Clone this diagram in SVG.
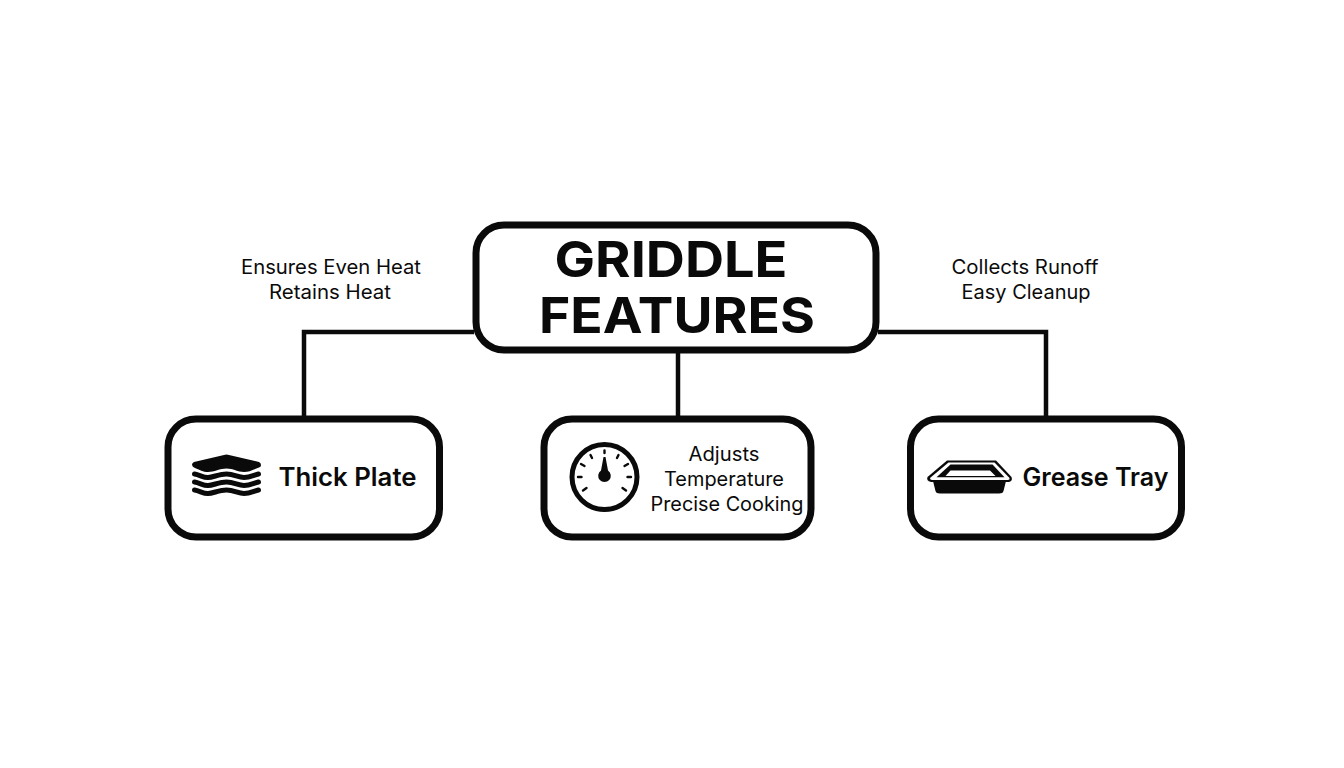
<svg xmlns="http://www.w3.org/2000/svg" width="1344" height="768" viewBox="0 0 1344 768">
<style>
.box{fill:#fff;stroke:#0a0a0a;stroke-width:7}
.conn{fill:none;stroke:#0a0a0a;stroke-width:4.5}
text{font-family:Inter,"Liberation Sans",sans-serif;fill:#0a0a0a;text-anchor:middle}
.title{font-size:50px;font-weight:700}
.label{font-size:19.5px;font-weight:400}
.name{font-size:25px;font-weight:600}
.w{fill:none;stroke:#0a0a0a;stroke-width:5;stroke-linecap:round;stroke-linejoin:round}
.t{stroke:#0a0a0a;stroke-width:2.4;stroke-linecap:round}
</style>
<rect width="1344" height="768" fill="#fff"/>
<g id="connectors">
<path class="conn" d="M474 332H304V417"/>
<path class="conn" d="M678 352V417"/>
<path class="conn" d="M878 332H1046V417"/>
</g>
<g id="griddle-features">
<rect class="box" x="476" y="225" width="400" height="125" rx="28"/>
<text class="title" x="671" y="277" textLength="233" lengthAdjust="spacingAndGlyphs">GRIDDLE</text>
<text class="title" x="677" y="333" textLength="276" lengthAdjust="spacingAndGlyphs">FEATURES</text>
</g>
<g id="note-left">
<text class="label" x="331" y="274" textLength="180" lengthAdjust="spacingAndGlyphs">Ensures Even Heat</text>
<text class="label" x="330" y="299" textLength="122" lengthAdjust="spacingAndGlyphs">Retains Heat</text>
</g>
<g id="note-right">
<text class="label" x="1025" y="274" textLength="147" lengthAdjust="spacingAndGlyphs">Collects Runoff</text>
<text class="label" x="1026" y="299" textLength="129" lengthAdjust="spacingAndGlyphs">Easy Cleanup</text>
</g>
<g id="thick-plate">
<rect class="box" x="168" y="419" width="271.500" height="118" rx="28"/>
<path fill="#0a0a0a" d="M192 464.500Q192 463 194 462L224 455Q226.500 454 229 455L259 462Q261 463 261 465Q261 467 259 467.500C252 470 249 472 244 472C238 472 233 468.500 226.500 468.500C220 468.500 214 472 208 472C203 472 200 470 194 467.500Q192 466.500 192 464.500Z"/>
<path id="w1" class="w" d="M194.500 474C200 475 203 477.500 208 477.500S219 474 226.500 474S238 477.500 244 477.500S254 475 258.500 474"/>
<path class="w" d="M194.500 482C200 483 203 485.500 208 485.500S219 482 226.500 482S238 485.500 244 485.500S254 483 258.500 482"/>
<path class="w" d="M194.500 490C200 491 203 493.500 208 493.500S219 490 226.500 490S238 493.500 244 493.500S254 491 258.500 490"/>
<text class="name" x="347.500" y="486" textLength="138" lengthAdjust="spacingAndGlyphs">Thick Plate</text>
</g>
<g id="adjusts-temperature">
<rect class="box" x="544" y="419" width="267" height="118" rx="28"/>
<circle cx="604.500" cy="477" r="32.500" fill="none" stroke="#0a0a0a" stroke-width="5"/>
<path class="t" d="M604.500 450.500V453M590.500 455L592 458M618.500 455L617 458M581 464L584.500 466M628 464L624.500 466M578 477H581.500M631 477H627.500M583 490.500L586.500 488M626 490.500L622.500 488"/>
<path fill="#0a0a0a" d="M603.500 457H605.500L608 470.500A6.300 6.300 0 1 1 601 470.500Z"/>
<text class="label" x="724" y="461" textLength="71" lengthAdjust="spacingAndGlyphs">Adjusts</text>
<text class="label" x="724" y="486" textLength="120" lengthAdjust="spacingAndGlyphs">Temperature</text>
<text class="label" x="727" y="511" textLength="153" lengthAdjust="spacingAndGlyphs">Precise Cooking</text>
</g>
<g id="grease-tray">
<rect class="box" x="910.500" y="419" width="271" height="118" rx="28"/>
<path fill="#0a0a0a" d="M933 481H1006L1003.500 491Q1003 493.500 999 493.500H940Q936 493.500 935.500 491Z"/>
<path fill="#0a0a0a" d="M947 460.500H996L1011.500 477Q1013 481 1009 482H931Q926 481 927.500 477Z"/>
<path fill="#fff" d="M948.500 462.500H994.500L1009.500 478Q1010 479.800 1008 480H932Q930 479.800 930 478Z"/>
<path fill="#0a0a0a" d="M950.500 464.500H992.500L1004.500 477.300H936.500Z"/>
<path fill="#fff" d="M950.500 470.500H990L995.500 476H945.500Z"/>
<text class="name" x="1095.500" y="486" textLength="146" lengthAdjust="spacingAndGlyphs">Grease Tray</text>
</g>
</svg>
